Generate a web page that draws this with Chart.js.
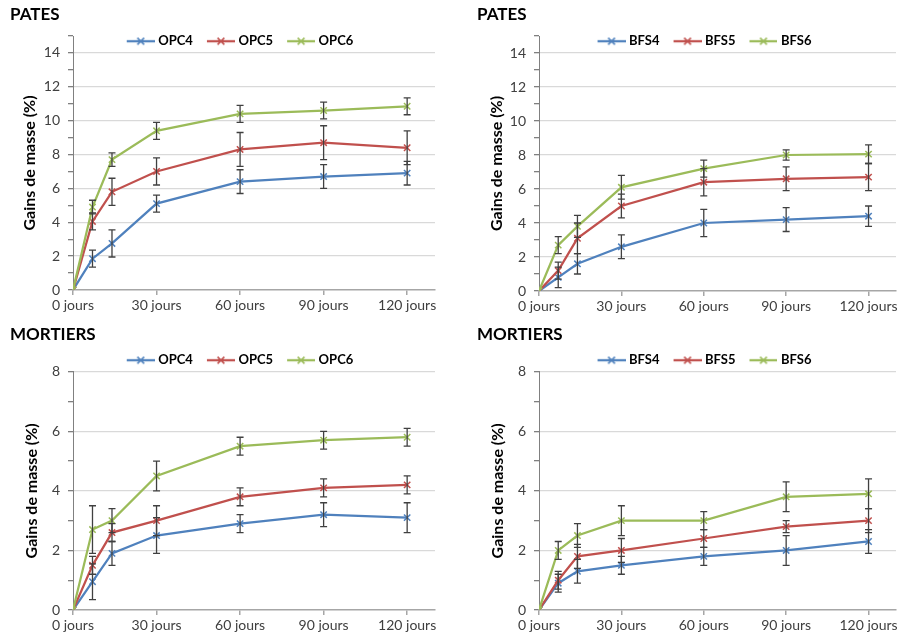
<!DOCTYPE html>
<html><head><meta charset="utf-8">
<script src="https://cdn.jsdelivr.net/npm/chart.js@4/dist/chart.umd.min.js"></script>
<style>
html,body{margin:0;padding:0;background:#fff;}
#wrap{position:relative;width:902px;height:641px;overflow:hidden;}
canvas{position:absolute;}
</style></head><body>
<div id="wrap">
<canvas id="c1" width="451" height="320" style="left:0;top:0"></canvas>
<canvas id="c2" width="452" height="320" style="left:450px;top:0"></canvas>
<canvas id="c3" width="451" height="321" style="left:0;top:320px"></canvas>
<canvas id="c4" width="452" height="321" style="left:450px;top:320px"></canvas>
</div>
<script>
// ---------- data ----------
const days = [0, 7, 14, 30, 60, 90, 120];
const xTickValues = [0, 30, 60, 90, 120];
const xTickUnit = 'jours';
const yAxisTitle = 'Gains de masse (%)';
const titlePates = 'PATES';
const titleMortiers = 'MORTIERS';
const opcNames = ['OPC4', 'OPC5', 'OPC6'];
const bfsNames = ['BFS4', 'BFS5', 'BFS6'];

const patesOPC4 = [0, 1.85, 2.75, 5.1, 6.4, 6.7, 6.9];
const patesOPC4Err = [0, 0.5, 0.8, 0.5, 0.7, 0.7, 0.7];
const patesOPC5 = [0, 4.05, 5.8, 7.0, 8.3, 8.7, 8.4];
const patesOPC5Err = [0, 0.5, 0.8, 0.8, 1.0, 1.0, 1.0];
const patesOPC6 = [0, 4.9, 7.7, 9.4, 10.4, 10.6, 10.85];
const patesOPC6Err = [0, 0.4, 0.4, 0.5, 0.5, 0.5, 0.5];

const patesBFS4 = [0, 0.8, 1.6, 2.6, 4.0, 4.2, 4.4];
const patesBFS4Err = [0, 0.6, 0.6, 0.7, 0.8, 0.7, 0.6];
const patesBFS5 = [0, 1.2, 3.1, 5.0, 6.4, 6.6, 6.7];
const patesBFS5Err = [0, 0.5, 0.9, 0.7, 0.8, 0.7, 0.8];
const patesBFS6 = [0, 2.7, 3.8, 6.1, 7.2, 8.0, 8.05];
const patesBFS6Err = [0, 0.5, 0.65, 0.7, 0.5, 0.3, 0.55];

const mortiersOPC4 = [0, 0.95, 1.9, 2.5, 2.9, 3.2, 3.1];
const mortiersOPC4Err = [0, 0.6, 0.4, 0.6, 0.3, 0.4, 0.5];
const mortiersOPC5 = [0, 1.5, 2.6, 3.0, 3.8, 4.1, 4.2];
const mortiersOPC5Err = [0, 0.3, 0.3, 0.5, 0.3, 0.3, 0.3];
const mortiersOPC6 = [0, 2.7, 3.0, 4.5, 5.5, 5.7, 5.8];
const mortiersOPC6Err = [0, 0.8, 0.4, 0.5, 0.3, 0.3, 0.3];

const mortiersBFS4 = [0, 0.9, 1.3, 1.5, 1.8, 2.0, 2.3];
const mortiersBFS4Err = [0, 0.3, 0.4, 0.3, 0.3, 0.5, 0.4];
const mortiersBFS5 = [0, 1.0, 1.8, 2.0, 2.4, 2.8, 3.0];
const mortiersBFS5Err = [0, 0.3, 0.4, 0.4, 0.3, 0.2, 0.4];
const mortiersBFS6 = [0, 2.0, 2.5, 3.0, 3.0, 3.8, 3.9];
const mortiersBFS6Err = [0, 0.3, 0.4, 0.5, 0.3, 0.5, 0.5];

const seriesColors = ['#4F81BD', '#C0504D', '#9BBB59'];

// ---------- helpers ----------
const FONT = 'Lato, "Open Sans", "Liberation Sans", sans-serif';

function legendIcon(color) {
  const c = document.createElement('canvas');
  c.width = 38; c.height = 12;
  const g = c.getContext('2d');
  g.strokeStyle = color;
  g.lineWidth = 2.25;
  g.beginPath(); g.moveTo(10, 6); g.lineTo(38, 6); g.stroke();
  g.lineWidth = 1.5;
  const r = 3.4, cx = 24;
  g.beginPath();
  g.moveTo(cx - r, 6 - r); g.lineTo(cx + r, 6 + r);
  g.moveTo(cx + r, 6 - r); g.lineTo(cx - r, 6 + r);
  g.stroke();
  return c;
}

const errorBars = {
  id: 'errorBars',
  afterDatasetsDraw(chart) {
    const {ctx} = chart;
    const xs = chart.scales.x, ys = chart.scales.y;
    ctx.save();
    ctx.strokeStyle = '#404040';
    ctx.lineWidth = 1.3;
    chart.data.datasets.forEach((ds, i) => {
      if (!chart.isDatasetVisible(i)) return;
      ds.data.forEach((p, j) => {
        const e = ds.errorBars[j];
        if (!e) return;
        const px = xs.getPixelForValue(p.x);
        const y1 = ys.getPixelForValue(p.y - e);
        const y2 = ys.getPixelForValue(p.y + e);
        const cap = 3.5;
        ctx.beginPath();
        ctx.moveTo(px, y1); ctx.lineTo(px, y2);
        ctx.moveTo(px - cap, y1); ctx.lineTo(px + cap, y1);
        ctx.moveTo(px - cap, y2); ctx.lineTo(px + cap, y2);
        ctx.stroke();
      });
    });
    ctx.restore();
  }
};

// Lets the legend overlap the top of the plot area (as in the reference)
const legendFrame = {
  id: 'legendFrame',
  beforeLayout(chart, args, opts) {
    const lg = chart.legend;
    if (lg && !lg._framed) {
      const fit = lg.fit.bind(lg);
      lg.fit = function () { fit(); this._fullH = this.height; this.height = opts.height; };
      const draw = lg.draw.bind(lg);
      lg.draw = function () {
        const b = this.bottom;
        this.bottom = this.top + Math.max(this._fullH || 0, this.height);
        draw();
        this.bottom = b;
      };
      lg._framed = true;
    }
  },
  afterLayout(chart, args, opts) {
    const lg = chart.legend;
    if (lg) { lg.left += opts.shift; lg.right += opts.shift; }
  }
};

function makeChart(id, title, names, values, errs, yMax, f) {
  const datasets = names.map((n, i) => ({
    label: n,
    data: days.map((d, j) => ({x: d, y: values[i][j]})),
    errorBars: errs[i],
    borderColor: seriesColors[i],
    backgroundColor: seriesColors[i],
    pointBorderColor: seriesColors[i],
    pointBackgroundColor: seriesColors[i],
    borderWidth: 2.25,
    pointStyle: 'crossRot',
    pointRadius: 4.5,
    pointBorderWidth: 1.5,
    tension: 0,
    order: names.length - i
  }));
  return new Chart(document.getElementById(id), {
    type: 'line',
    data: {datasets},
    plugins: [errorBars, legendFrame],
    options: {
      responsive: false,
      animation: false,
      devicePixelRatio: 1,
      events: [],
      layout: {padding: {left: f.padLeft, right: f.padRight, top: 0, bottom: 0}},
      plugins: {
        tooltip: {enabled: false},
        title: {
          display: true, text: title, align: 'start', color: '#000',
          font: {family: FONT, size: 17, weight: 'bold', lineHeight: 0.8},
          padding: {top: f.titleTop, bottom: f.titleBottom}
        },
        legend: {
          display: true, position: 'top', align: 'center',
          labels: {
            usePointStyle: true, pointStyleWidth: 32, padding: 7, color: '#000',
            font: {family: FONT, size: 13, weight: 'bold'},
            sort: (a, b) => a.datasetIndex - b.datasetIndex,
            generateLabels(chart) {
              const items = Chart.defaults.plugins.legend.labels.generateLabels(chart);
              items.forEach(it => { it.pointStyle = legendIcon(chart.data.datasets[it.datasetIndex].borderColor); });
              return items;
            }
          }
        },
        legendFrame: {height: f.legendHeight, shift: f.legendShift}
      },
      scales: {
        x: {
          type: 'linear', min: 0, max: 130,
          afterBuildTicks: s => { s.ticks = xTickValues.map(v => ({value: v})); },
          afterFit: s => { s.height = f.xAxisHeight; },
          ticks: {
            callback: v => v + ' ' + xTickUnit, color: '#404040', maxRotation: 0, autoSkip: false,
            padding: 2, font: {family: FONT, size: 14}
          },
          grid: {drawOnChartArea: false, color: '#a6a6a6', tickLength: 5, lineWidth: 1.5},
          border: {color: '#a6a6a6', width: 1.5}
        },
        y: {
          type: 'linear', min: 0, max: yMax,
          afterFit: s => { s.width = f.yAxisWidth; },
          ticks: {
            stepSize: 1, autoSkip: false, color: '#404040', padding: 8,
            font: {family: FONT, size: 14},
            callback: v => (v % 2 === 0 ? v : '')
          },
          grid: {
            color: c => (c.tick && c.tick.value % 2 === 0 && c.tick.value > 0 ? '#d9d9d9' : 'rgba(0,0,0,0)'),
            tickColor: '#808080', tickLength: 5, lineWidth: 1.3
          },
          border: {color: '#808080', width: 1},
          title: {
            display: true, text: yAxisTitle, color: '#000',
            font: {family: FONT, size: 16, weight: 'bold'},
            padding: {top: f.yTitlePad, bottom: 0}
          }
        }
      }
    }
  });
}

makeChart('c1', titlePates, opcNames, [patesOPC4, patesOPC5, patesOPC6],
  [patesOPC4Err, patesOPC5Err, patesOPC6Err], 15,
  {padLeft: 10, padRight: 16, yAxisWidth: 63, xAxisHeight: 30, titleTop: 7.5, titleBottom: 6.6,
   legendHeight: 8.3, legendShift: 14, yTitlePad: 10.4});
makeChart('c2', titlePates, bfsNames, [patesBFS4, patesBFS5, patesBFS6],
  [patesBFS4Err, patesBFS5Err, patesBFS6Err], 15,
  {padLeft: 27, padRight: 1, yAxisWidth: 62, xAxisHeight: 29, titleTop: 7.5, titleBottom: 6.6,
   legendHeight: 8.3, legendShift: 12, yTitlePad: 10.1});
makeChart('c3', titleMortiers, opcNames, [mortiersOPC4, mortiersOPC5, mortiersOPC6],
  [mortiersOPC4Err, mortiersOPC5Err, mortiersOPC6Err], 8,
  {padLeft: 10, padRight: 16, yAxisWidth: 63, xAxisHeight: 31, titleTop: 8.2, titleBottom: 4.9,
   legendHeight: 25, legendShift: 14, yTitlePad: 12.1});
makeChart('c4', titleMortiers, bfsNames, [mortiersBFS4, mortiersBFS5, mortiersBFS6],
  [mortiersBFS4Err, mortiersBFS5Err, mortiersBFS6Err], 8,
  {padLeft: 27, padRight: 1, yAxisWidth: 62, xAxisHeight: 31, titleTop: 8.2, titleBottom: 4.9,
   legendHeight: 25, legendShift: 12, yTitlePad: 11.1});
</script>
</body></html>
